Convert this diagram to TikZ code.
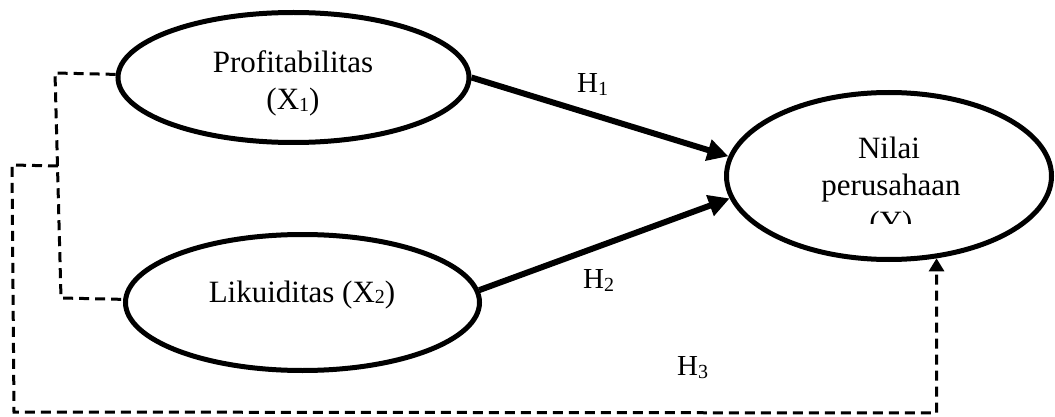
\documentclass[tikz,border=0pt]{standalone}
\usepackage{fontspec}
\setmainfont{Liberation Serif}
\usetikzlibrary{arrows.meta,shapes.geometric}
\newcommand{\sbs}[1]{\raisebox{-1.5pt}{\fontsize{20}{20}\selectfont #1}}
\newcommand{\hsb}[1]{\raisebox{-3pt}{\fontsize{20}{20}\selectfont #1}}
\begin{document}
\begin{tikzpicture}[x=1pt,y=-1pt,
  var/.style={draw, ellipse, line width=5pt, inner sep=0pt},
  txt/.style={font=\fontsize{31}{36}\selectfont, anchor=base, inner sep=0pt},
  hyp/.style={font=\fontsize{29}{34}\selectfont, anchor=base west, inner sep=0pt},
  solidarrow/.style={line width=6pt, -{Triangle[length=21pt,width=21pt]}},
  dashline/.style={line width=3pt, dash pattern=on 10pt off 6pt},
  dasharrow/.style={dashline, -{Triangle[length=13pt,width=15pt]}},
]
\useasboundingbox (0,0) rectangle (1055,417);
% ellipses
\node[var, minimum width=351pt, minimum height=130pt] (P) at (293.5,77.5) {};
\node[var, minimum width=354pt, minimum height=136pt] (L) at (302.5,302.5) {};
\node[var, minimum width=325pt, minimum height=167pt] (Y) at (889,176) {};
% texts
\node[txt] (pt1) at (293,73) {Profitabilitas};
\node[txt] (pt2) at (293,110) {(X\sbs{1})};
\node[txt] (lt) at (302,302) {Likuiditas (X\sbs{2})};
\node[txt] (yt1) at (889,158) {Nilai};
\node[txt] (yt2) at (891,195) {perusahaan};
\begin{scope}
\clip (800,200) rectangle (980,223);
\node[txt] (yt3) at (891,232) {(Y)};
\end{scope}
% hypothesis labels
\node[hyp] (h1) at (577,93) {H\hsb{1}};
\node[hyp] (h2) at (583,288) {H\hsb{2}};
\node[hyp] (h3) at (677,375) {H\hsb{3}};
% solid arrows
\draw[solidarrow] (P.east) -- (Y.173.7);
\draw[solidarrow] (L.4) -- (Y.188.3);
% dashed connectors
\coordinate (a1) at (55,73);
\coordinate (a2) at (61,298);
\coordinate (b0) at (58,166);
\coordinate (b1) at (12,165);
\coordinate (b2) at (14,412);
\draw[dashline] (P.179) -- (a1) -- (a2) -- (L.179);
\draw[dasharrow] (b0) -- (b1) -- (b2) -- (Y.300 |- 0,413) -- (Y.300);
\end{tikzpicture}
\end{document}
